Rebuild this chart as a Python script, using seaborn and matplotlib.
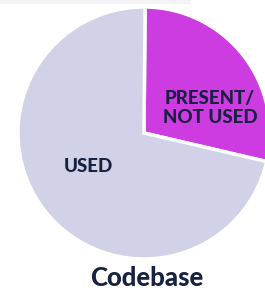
import matplotlib.pyplot as plt
from matplotlib.patches import Rectangle
import seaborn as sns

# slice data
labels = ["PRESENT/\nNOT USED", "USED"]
shares = [28.5, 71.5]
colors = ["#cc3ce0", "#d1d1e7"]
title = "Codebase"

sns.set_theme(style="white")
plt.rcParams['font.family'] = ['Lato', 'DejaVu Sans']

text_color = "#172241"

fig = plt.figure(figsize=(2.65, 2.9), dpi=100)
ax = fig.add_axes([0, 0, 1, 1])

# faint strip along the top edge
fig.patches.append(Rectangle((0, 286 / 290), 190 / 265, 4 / 290, transform=fig.transFigure,
                             facecolor='#f4f4f7', edgecolor='none', zorder=0))

cx, cy, r = 144, 157, 126
wedges, _ = ax.pie(shares, colors=colors, startangle=89.5, counterclock=False,
                   center=(cx, cy), radius=r, explode=[0.012, 0],
                   wedgeprops=dict(edgecolor='white', linewidth=2.5),
                   frame=True)
for w in wedges:
    w.set_clip_on(False)
ax.set_xlim(0, 265)
ax.set_ylim(0, 290)
ax.set_aspect('equal')
ax.axis('off')

# slice labels
ax.text(cx + 66, cy + 25, labels[0], ha='center', va='center', fontsize=13.5,
        fontweight=900, color=text_color, linespacing=1.12)
ax.text(cx - 56, cy - 33, labels[1], ha='center', va='center', fontsize=13.5,
        fontweight=900, color=text_color)

ax.text(cx + 2.5, 12, title, ha='center', va='center', fontsize=18.5,
        fontweight=900, color=text_color)

plt.savefig('out.png', dpi=100)
